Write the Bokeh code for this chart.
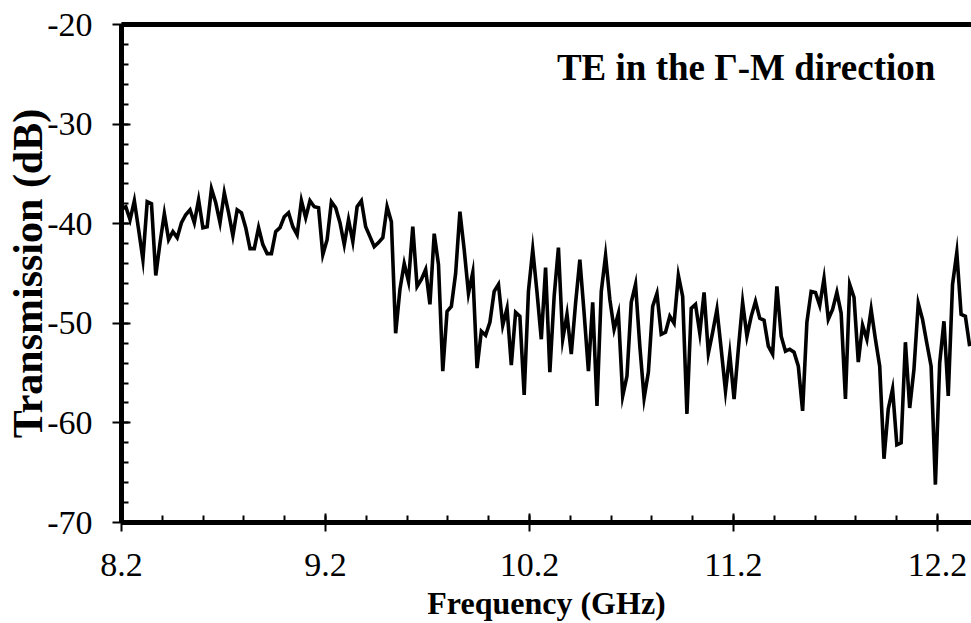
from bokeh.plotting import figure
from bokeh.models import LinearAxis, FixedTicker, Label, Range1d
from bokeh.embed import file_html
from bokeh.resources import INLINE

# Sweep: start frequency and step (GHz)
freq_start = 8.2
freq_step = 0.021

# Transmission values (dB)
transmission = [
    -38.5, -38.3, -39.6, -37.7, -40.6, -43.6, -37.8, -38.0, -45.2, -41.9,
    -39.0, -41.6, -40.8, -41.4, -39.9, -39.1, -38.6, -39.9, -37.6, -40.4,
    -40.3, -36.5, -37.9, -39.9, -36.9, -38.9, -41.2, -38.6, -38.9, -40.4,
    -42.5, -42.5, -40.4, -42.1, -43.0, -43.0, -40.8, -40.4, -39.3, -38.9,
    -40.3, -41.1, -37.7, -39.4, -37.7, -38.3, -38.4, -43.1, -41.6, -37.8,
    -38.4, -39.9, -42.1, -39.6, -41.8, -38.3, -37.7, -40.3, -41.3, -42.3,
    -41.9, -41.4, -38.3, -39.8, -51.0, -46.6, -44.0, -45.8, -40.3, -46.3,
    -45.6, -44.6, -48.1, -41.0, -44.1, -54.8, -48.8, -48.3, -45.0, -38.8,
    -42.6, -47.0, -44.9, -54.5, -50.8, -51.2, -49.9, -46.8, -46.1, -50.2,
    -48.5, -54.2, -48.9, -49.3, -57.2, -46.8, -42.6, -46.9, -51.6, -44.4,
    -54.9, -47.3, -42.4, -51.6, -49.1, -53.1, -48.0, -43.6, -49.0, -54.8,
    -47.9, -58.3, -46.8, -43.2, -47.6, -50.6, -49.0, -57.3, -55.3, -47.9,
    -46.1, -52.3, -57.5, -54.9, -48.3, -47.0, -51.1, -50.9, -49.3, -50.0,
    -45.2, -47.3, -59.1, -48.5, -48.1, -51.0, -46.9, -53.0, -50.9, -48.6,
    -52.6, -56.8, -53.1, -57.6, -52.6, -47.9, -51.3, -49.3, -47.8, -49.5,
    -49.7, -52.3, -53.1, -46.3, -51.3, -52.8, -52.6, -52.9, -54.3, -58.8,
    -49.9, -46.8, -46.9, -48.2, -45.5, -49.6, -48.6, -46.9, -49.0, -57.6,
    -46.1, -47.4, -53.9, -50.2, -51.6, -48.6, -51.6, -54.3, -63.6, -58.6,
    -56.6, -62.2, -62.0, -51.9, -58.5, -54.6, -48.0, -49.6, -52.0, -54.3,
    -66.2, -54.0, -49.8, -57.3, -46.1, -42.9, -49.1, -49.3, -52.3,
]
frequency = [round(freq_start + freq_step * i, 4) for i in range(len(transmission))]

x_ticks = [8.2, 9.2, 10.2, 11.2, 12.2]
x_tick_labels = ["8.2", "9.2", "10.2", "11.2", "12.2"]
x_minor = [round(8.2 + 0.2 * k, 2) for k in range(22)]
y_ticks = [-70, -60, -50, -40, -30, -20]
y_tick_labels = ["-70", "-60", "-50", "-40", "-30", "-20"]
y_minor = list(range(-70, -19, 2))

title_text = "TE in the \u0393-M direction"
x_label = "Frequency (GHz)"
y_label = "Transmission (dB)"

FONT = "Liberation Serif"

p = figure(width=971, height=623, x_range=Range1d(8.2, 12.367), y_range=Range1d(-70, -20),
           output_backend="svg", toolbar_location=None,
           min_border_left=121, min_border_right=0, min_border_top=24, min_border_bottom=100)
p.outline_line_color = None
p.grid.visible = False
p.background_fill_color = "white"
p.border_fill_color = "white"

p.line(frequency, transmission, line_color="black", line_width=3.6, line_join="miter")

def style_axis(ax, ticks, labels, minor):
    ax.ticker = FixedTicker(ticks=ticks, minor_ticks=minor)
    ax.major_label_overrides = {t: l for t, l in zip(ticks, labels)}
    ax.axis_line_width = 5
    ax.axis_line_color = "black"
    ax.major_tick_in = 9
    ax.major_tick_out = 9
    ax.minor_tick_in = 7
    ax.minor_tick_out = 0
    ax.major_tick_line_width = 2
    ax.minor_tick_line_width = 2
    ax.major_label_text_font = FONT
    ax.major_label_text_font_size = "34px"
    ax.major_label_text_color = "black"
    ax.axis_label_text_font = FONT
    ax.axis_label_text_font_style = "bold"
    ax.axis_label_text_color = "black"

style_axis(p.xaxis[0], x_ticks, x_tick_labels, x_minor)
style_axis(p.yaxis[0], y_ticks, y_tick_labels, y_minor)
p.xaxis[0].axis_label = x_label
p.yaxis[0].axis_label = y_label
p.xaxis[0].major_label_standoff = 22
p.yaxis[0].major_label_standoff = 20
p.xaxis[0].axis_label_text_font_size = "32px"
p.yaxis[0].axis_label_text_font_size = "42px"
p.xaxis[0].axis_label_standoff = 6
p.yaxis[0].axis_label_standoff = -7

top = LinearAxis(ticker=FixedTicker(ticks=[]), axis_line_width=5, axis_line_color="black",
                 major_tick_line_color=None, minor_tick_line_color=None,
                 major_label_text_color=None)
p.add_layout(top, "above")

p.add_layout(Label(x=12.19, y=-24.3, text=title_text, text_align="right", text_baseline="middle",
                   text_font=FONT, text_font_style="bold", text_font_size="37px", text_color="black"))

open("out.html", "w").write(file_html(p, INLINE))
